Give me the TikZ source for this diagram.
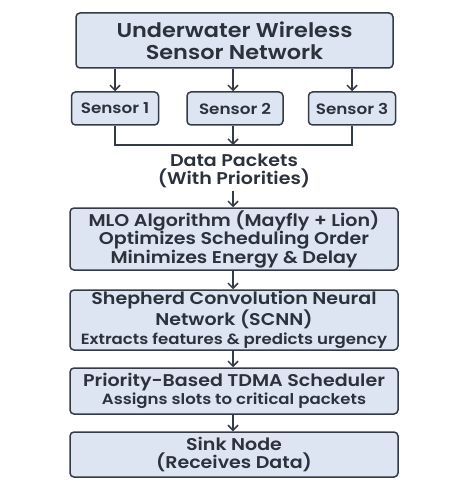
\documentclass[tikz,border=0pt]{standalone}
\usepackage{fontspec}
\setmainfont{Poppins}[FakeStretch=1.12, BoldFont={Poppins SemiBold}]
\usetikzlibrary{arrows.meta}
\definecolor{boxfill}{HTML}{DDE5F2}
\definecolor{boxline}{HTML}{343B47}
\definecolor{txt}{HTML}{2B323C}
\newcommand{\subl}[1]{{\fontsize{14.8}{16}\selectfont #1}}
\begin{document}
\begin{tikzpicture}[x=1pt,y=-1pt,
  box/.style={draw=boxline, fill=boxfill, line width=1.5pt, rounded corners=4pt, align=center, text=txt, inner sep=0pt},
  conn/.style={draw=boxline, line width=1.5pt},
  arr/.style={conn, -{Straight Barb[length=5pt,width=10pt,line width=1.5pt]}},
  main/.style={font=\fontsize{17}{18.5}\bfseries},
  font=\bfseries]
\useasboundingbox (0,0) rectangle (456,486);
\node[box, minimum width=317pt, minimum height=55pt, font=\fontsize{20}{22}\bfseries] (top) at (234.5,40.5) {Underwater Wireless\\Sensor Network};
\node[box, minimum width=87pt, minimum height=33pt, font=\fontsize{15}{16}\bfseries] (s1) at (115,108.5) {Sensor 1};
\node[box, minimum width=96pt, minimum height=33pt, font=\fontsize{15}{16}\bfseries] (s2) at (235,108.5) {Sensor 2};
\node[box, minimum width=87pt, minimum height=33pt, font=\fontsize{15}{16}\bfseries] (s3) at (352,108.5) {Sensor 3};
\coordinate (j) at (233,145);
\node[align=center, text=txt, inner sep=0pt, main] (data) at (234,171) {Data Packets\\(With Priorities)};
\node[box, minimum width=328pt, minimum height=62pt, main] (mlo) at (234,239) {MLO Algorithm (Mayfly + Lion)\\Optimizes Scheduling Order\\Minimizes Energy \& Delay};
\node[box, minimum width=328pt, minimum height=60pt, main] (scnn) at (234,320) {Shepherd Convolution Neural\\Network (SCNN)\\\subl{Extracts features \& predicts urgency}};
\node[box, minimum width=328pt, minimum height=46pt, main] (tdma) at (234,391) {Priority-Based TDMA Scheduler\\\subl{Assigns slots to critical packets}};
\node[box, minimum width=328pt, minimum height=45pt, main] (sink) at (234,454.5) {Sink Node\\(Receives Data)};
\draw[arr] (top.south -| s1) -- (s1.north);
\draw[arr] (top.south -| j) -- (j |- s2.north);
\draw[arr] (top.south -| s3) -- (s3.north);
\draw[conn] (s1.south) |- (j) -| (s3.south);
\draw[arr] (j |- s2.south) -- (j);
\draw[arr] (data.south -| j) ++(0,3) -- (j |- mlo.north);
\draw[arr] (mlo.south -| j) -- (j |- scnn.north);
\draw[arr] (scnn.south -| j) -- (j |- tdma.north);
\draw[arr] (tdma.south -| j) -- (j |- sink.north);
\end{tikzpicture}
\end{document}
